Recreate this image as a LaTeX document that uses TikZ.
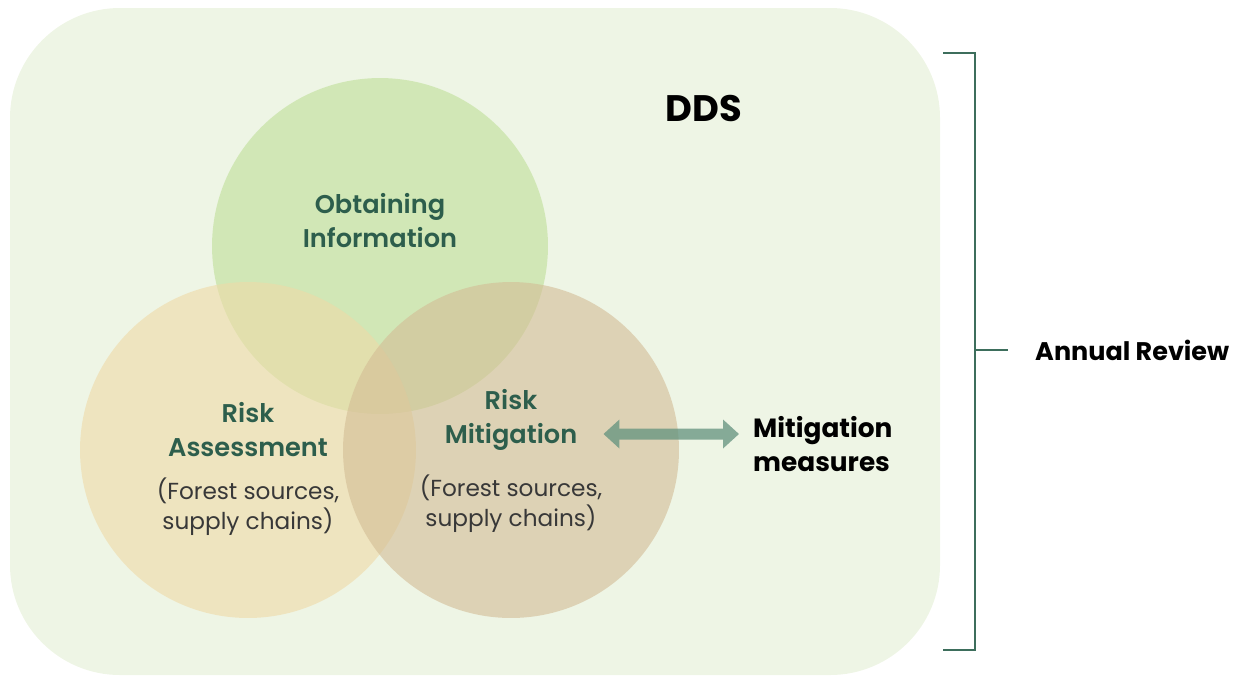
\documentclass[tikz,border=0pt]{standalone}
\usepackage{fontspec}
\setmainfont{Poppins}
\newfontfamily\semifont{Poppins SemiBold}
\usetikzlibrary{positioning, arrows.meta}
\definecolor{ddsbg}{HTML}{EEF5E5}
\definecolor{infogreen}{HTML}{BFDF98}
\definecolor{assessbeige}{HTML}{EEDAA7}
\definecolor{mitigtan}{HTML}{D3BC95}
\definecolor{labelgreen}{HTML}{2D5E4C}
\definecolor{bracketgreen}{HTML}{3D6E5C}
\definecolor{arrowgreen}{HTML}{62927E}
\tikzset{x=0.02cm, y=-0.02cm,
  venn/.style={circle, minimum size=6.72cm, inner sep=0pt, fill opacity=0.6},
  head/.style={align=center, text=labelgreen, font=\semifont\fontsize{14.6}{19.3}\selectfont},
  note/.style={align=center, text=black!78, font=\fontsize{13.2}{17}\selectfont},
  plain label/.style={align=left, text=black, font=\bfseries\fontsize{15}{19.3}\selectfont},
  bracket/.style={draw=bracketgreen, line width=0.05cm},
  twoway/.style={arrowgreen, line width=0.22cm,
    {Triangle[width=0.56cm, length=0.32cm]}-{Triangle[width=0.56cm, length=0.32cm]}}}

\begin{document}
\begin{tikzpicture}
\useasboundingbox (0,0) rectangle (1239,677);
\fill[ddsbg, rounded corners=2.2cm] (10,8) rectangle (940,675);
% the three circles
\node[venn, fill=infogreen] (info) at (380,246) {};
\node[venn, fill=assessbeige] (assess) at (248,450) {};
\node[venn, fill=mitigtan] (mitig) at (511,450) {};
% labels
\node[head] (oi) at (380,221) {Obtaining\\Information};
\node[head] (ra) at (248,430) {Risk\\Assessment};
\node[note] (ra-src) at (248,507) {(Forest sources,\\supply chains)};
\node[head] (rm) at (511,420) {Risk\\Mitigation};
\node[note] (rm-src) at (511,504) {(Forest sources,\\supply chains)};
\node[font=\bfseries\fontsize{21}{25}\selectfont] (dds) at (704,108) {DDS};
\node[plain label, anchor=west] (measures) at (747,444) {Mitigation\\measures};
\node[plain label, anchor=west, font=\bfseries\fontsize{14.5}{19}\selectfont] (review) at (1029,350) {Annual Review};
% arrow
\begin{scope}[transparency group, opacity=0.75]
\draw[twoway, shorten <=0.4cm, shorten >=0.16cm]
  ([yshift=-0.28cm]rm.east) -- ([yshift=0.2cm]measures.west);
\end{scope}
% bracket
\coordinate (b-top) at (943,53);
\coordinate (b-bot) at (943,650);
\draw[bracket] (b-top) -- ++(32,0) coordinate (b-corner) |- (b-bot);
\draw[bracket] (b-corner |- review) -- ++(33,0);
\end{tikzpicture}
\end{document}
